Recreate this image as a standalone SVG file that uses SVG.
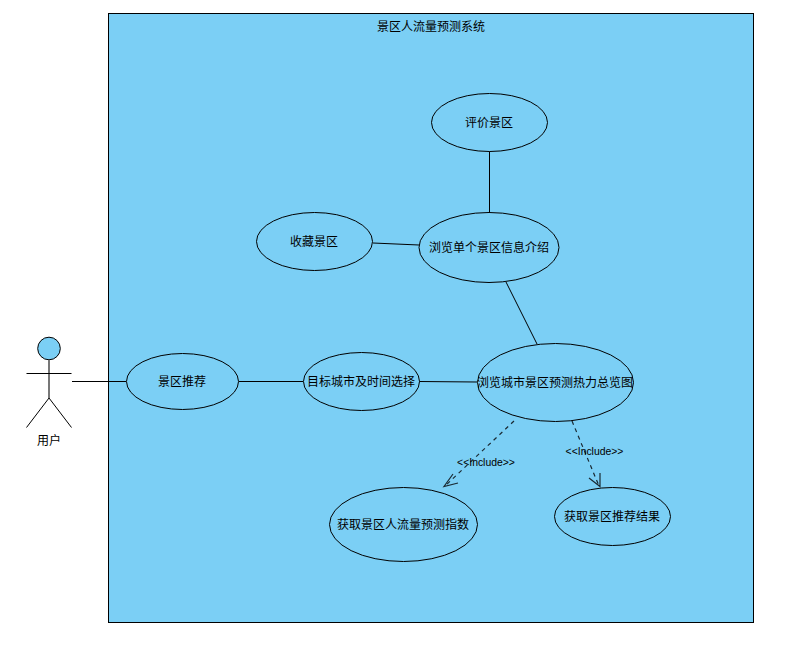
<svg xmlns="http://www.w3.org/2000/svg" width="796" height="648" viewBox="0 0 796 648">
<style>
text{font-family:"Liberation Sans","Noto Sans CJK SC",sans-serif;font-size:12px;fill:#000;text-anchor:middle}
.s{fill:#7bcff5;stroke:#000;stroke-width:1}
.c{fill:none;stroke:#000;stroke-width:1}
.a{fill:none;stroke:#1a2a33;stroke-width:1.2}
.d{stroke-dasharray:4 4}
.l{font-size:10.400px}
</style>
<rect width="796" height="648" fill="#fff"/>
<g id="system"><rect class="s" x="108.500" y="13.500" width="645" height="609"/><text x="431" y="31">景区人流量预测系统</text></g>
<g id="connectors">
<path class="c" d="M72 381.500H126"/>
<path class="c" d="M239 381.500H303"/>
<path class="c" d="M419 381.500L477 382"/>
<path class="c" d="M506 282L537 344"/>
<path class="c" d="M489.500 151V212"/>
<path class="c" d="M373 243L419 245"/>
<path class="a d" d="M514 421L445 486"/>
<path class="a" d="M458 483L444 486.500L453 474"/>
<path class="a d" d="M572 421L599 486"/>
<path class="a" d="M589 478L600 486.500L600 473"/>
</g>
<g id="labels"><text class="l" x="486" y="466">&lt;&lt;Include&gt;&gt;</text><text class="l" x="594.500" y="455">&lt;&lt;Include&gt;&gt;</text></g>
<g id="actor"><circle class="s" cx="49" cy="348.500" r="11.300"/><path d="M49 360V398" stroke="#777" stroke-width="2" fill="none"/><path class="c" d="M26.500 373.500H71.500M49 398L26.500 427.500M49 398L71.500 427.500"/><text x="49" y="445">用户</text></g>
<g id="n1"><ellipse class="s" cx="489.500" cy="122.500" rx="58" ry="29"/><text x="489" y="127">评价景区</text></g>
<g id="n2"><ellipse class="s" cx="314.500" cy="241.500" rx="58" ry="29"/><text x="314" y="246">收藏景区</text></g>
<g id="n3"><ellipse class="s" cx="489" cy="247.500" rx="70" ry="35"/><text x="489" y="252">浏览单个景区信息介绍</text></g>
<g id="n4"><ellipse class="s" cx="182.500" cy="381.500" rx="56" ry="28"/><text x="182" y="386">景区推荐</text></g>
<g id="n5"><ellipse class="s" cx="361.500" cy="381.500" rx="58" ry="29"/><text x="361" y="386">目标城市及时间选择</text></g>
<g id="n6"><ellipse class="s" cx="555.500" cy="382.500" rx="78" ry="39"/><text x="555" y="387">浏览城市景区预测热力总览图</text></g>
<g id="n7"><ellipse class="s" cx="403.500" cy="524.500" rx="74" ry="37"/><text x="403" y="529">获取景区人流量预测指数</text></g>
<g id="n8"><ellipse class="s" cx="612.500" cy="516.500" rx="58" ry="29"/><text x="612" y="521">获取景区推荐结果</text></g>
</svg>
